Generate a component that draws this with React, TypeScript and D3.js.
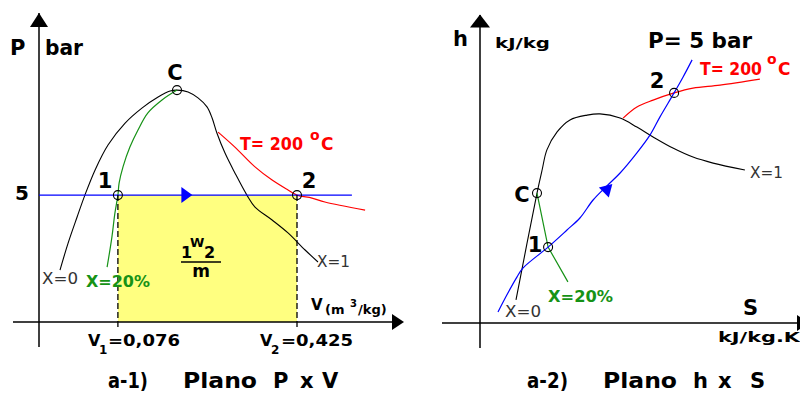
import React from 'react';
import * as d3 from 'd3';

type Pt = [number, number];

// ---- plano P x V (schematic units) ----
const domeLeft: Pt[] = [
  [7, 17.3], [9.7, 26.3], [12.7, 35], [15.3, 42.3], [18.7, 50.7], [23, 59], [28.7, 66.3],
  [34.3, 71.3], [39.7, 75], [43.7, 77], [46, 77.3], [49.7, 76.7], [53, 74.7], [56, 71.7],
  [57.7, 68], [59.3, 63], [62, 56.3], [65.3, 49.7], [69.3, 42.3], [72, 38.3], [77.7, 34],
  [83, 29.7], [88.7, 24], [93, 20],
];
const x20Left: Pt[] = [
  [46, 77.3], [41, 74], [36.3, 69.7], [33, 64], [30.3, 58.3], [28, 51.7], [26.7, 46.3],
  [26.3, 42.3], [25.3, 36.3], [24.3, 28.3], [22.7, 18.3],
];
const isoTLeft: Pt[] = [
  [59.7, 63.3], [65.3, 58.3], [72, 51.7], [77.7, 47.3], [83, 44], [86, 42.3],
  [91, 41.3], [95.3, 40], [108.7, 37.3],
];
const pLevel = 42.3; // 5 bar
const v1 = 26.3;
const v2 = 86;
const critLeft: Pt = [46, 77.3];
const isobarLeftEnd = 104.3;

// ---- plano h x S (schematic units) ----
const domeRight: Pt[] = [
  [12, 7.7], [19, 43.3], [20.7, 51], [22.3, 57.7], [25.7, 63.7], [30, 67.7], [35.7, 69.3],
  [40, 69.7], [46.7, 68.3], [52.3, 65.3], [57.7, 62], [64.3, 58.3], [71, 55.3], [77.7, 53.3],
  [88.3, 51],
];
const x20Right: Pt[] = [[19, 43.3], [22.7, 25.3], [29.3, 13.7]];
const isobarRight: Pt[] = [
  [6, 3.7], [9.3, 10], [12.3, 15.3], [14.3, 18.3], [22.7, 25.3], [29, 31], [33.3, 35],
  [37.7, 41], [42.3, 45.7], [46.7, 50], [52.3, 56.7], [56.7, 62.7], [60, 68.7], [64.7, 76.7],
  [67.7, 82], [70.7, 87.7],
];
const isoTRight: Pt[] = [
  [47.7, 68.3], [52.3, 72], [57.7, 74.3], [64.7, 76.7], [71, 78.3], [80, 79.3], [93.3, 81.3],
];
const critRight: Pt = [19, 43.3];
const p1Right: Pt = [22.7, 25.3];
const p2Right: Pt = [64.7, 76.7];

const FONT = "'DejaVu Sans', sans-serif";
const GREEN = '#169216';
const RED = '#ff0000';
const BLUE = '#0000ff';

const Tri = ({ x, y, angle, fill, len = 11, half = 7 }: any) => (
  <path
    d={`M${len / 2},0L${-len / 2},${-half}L${-len / 2},${half}Z`}
    transform={`translate(${x},${y}) rotate(${angle})`}
    fill={fill}
  />
);

const Lbl = ({ x, y, size = 20, fill = '#000', weight = 'bold', w, anchor = 'start', children }: any) => (
  <text
    x={x}
    y={y}
    fontSize={size}
    fontFamily={FONT}
    fontWeight={weight}
    fill={fill}
    textAnchor={anchor}
    textLength={w}
    lengthAdjust={w ? 'spacingAndGlyphs' : undefined}
  >
    {children}
  </text>
);

export default function App() {
  const xV = d3.scaleLinear().domain([0, 120]).range([39, 399]);
  const yP = d3.scaleLinear().domain([0, 100]).range([322, 22]);
  const xS = d3.scaleLinear().domain([0, 107]).range([480, 801]);
  const yH = d3.scaleLinear().domain([0, 100]).range([323, 23]);

  const curve = d3.curveCatmullRom.alpha(0.5);
  const lineL = d3.line<Pt>().x((d) => xV(d[0])).y((d) => yP(d[1])).curve(curve);
  const lineR = d3.line<Pt>().x((d) => xS(d[0])).y((d) => yH(d[1])).curve(curve);
  const lineRStraight = d3.line<Pt>().x((d) => xS(d[0])).y((d) => yH(d[1]));

  const y5 = yP(pLevel);
  const a = isobarRight[7];
  const b = isobarRight[9];
  const arrowAngle =
    (Math.atan2(yH(b[1]) - yH(a[1]), xS(b[0]) - xS(a[0])) * 180) / Math.PI;

  const circ = (cx: number, cy: number, k: string) => (
    <circle key={k} cx={cx} cy={cy} r={4.5} fill="none" stroke="#000" strokeWidth={1.1} />
  );

  return (
    <svg
      width={800}
      height={394}
      style={{ position: 'absolute', left: 0, top: 0, background: '#fff' }}
    >
      {/* ===== left: P x V ===== */}
      <rect
        x={xV(v1)}
        y={y5}
        width={xV(v2) - xV(v1)}
        height={yP(0) - y5}
        fill="#ffff80"
      />
      <line x1={xV(0)} y1={13} x2={xV(0)} y2={347} stroke="#000" strokeWidth={1.5} />
      <Tri x={xV(0)} y={20} angle={-90} fill="#000" len={14} half={9} />
      <line x1={13} y1={yP(0)} x2={395} y2={yP(0)} stroke="#000" strokeWidth={1.5} />
      <Tri x={398} y={yP(0)} angle={0} fill="#000" len={12} half={8} />

      <path d={lineL(domeLeft) || ''} fill="none" stroke="#000" strokeWidth={1.1} />
      <path d={lineL(x20Left) || ''} fill="none" stroke={GREEN} strokeWidth={1.2} />
      <path d={lineL(isoTLeft) || ''} fill="none" stroke={RED} strokeWidth={1.2} />
      <line x1={xV(0)} y1={y5} x2={xV(isobarLeftEnd)} y2={y5} stroke={BLUE} strokeWidth={1.3} />
      <Tri x={xV(49.3)} y={y5} angle={0} fill={BLUE} len={11} half={8} />

      {[v1, v2].map((v) => (
        <line
          key={v}
          x1={xV(v)}
          y1={y5}
          x2={xV(v)}
          y2={329}
          stroke="#000"
          strokeWidth={1.3}
          strokeDasharray="6,3"
        />
      ))}
      {circ(xV(v1), y5, 'l1')}
      {circ(xV(v2), y5, 'l2')}
      {circ(xV(critLeft[0]), yP(critLeft[1]), 'lc')}

      <Lbl x={10} y={55} size={21}>P</Lbl>
      <Lbl x={45} y={55} size={21} w={38}>bar</Lbl>
      <Lbl x={15} y={200} size={20}>5</Lbl>
      <Lbl x={175} y={80} size={21} anchor="middle">C</Lbl>
      <Lbl x={105} y={188} size={21} anchor="middle">1</Lbl>
      <Lbl x={309} y={188} size={21} anchor="middle">2</Lbl>
      <text x={240} y={150} fontFamily={FONT} fontWeight="bold" fill={RED}>
        <tspan fontSize={17} textLength={63} lengthAdjust="spacingAndGlyphs">T= 200</tspan>
        <tspan x={310} y={140} fontSize={14}>o</tspan>
        <tspan x={321} y={150} fontSize={17}>C</tspan>
      </text>
      <Lbl x={42} y={284} size={15} weight="normal" fill="#333" w={36}>X=0</Lbl>
      <Lbl x={86} y={287} size={16} fill={GREEN} w={64}>X=20%</Lbl>
      <Lbl x={317} y={267} size={15} weight="normal" fill="#333" w={33}>X=1</Lbl>

      {/* 1W2 / m */}
      <Lbl x={181} y={258} size={16}>1</Lbl>
      <Lbl x={190} y={247} size={13}>W</Lbl>
      <Lbl x={204} y={258} size={16}>2</Lbl>
      <line x1={181} y1={262} x2={221} y2={262} stroke="#000" strokeWidth={1.5} />
      <Lbl x={201} y={277} size={17} anchor="middle">m</Lbl>

      <text x={311} y={310} fontFamily={FONT} fontWeight="bold" fill="#000">
        <tspan fontSize={15}>V</tspan>
        <tspan x={325} y={314} fontSize={13}>(m</tspan>
        <tspan x={350} y={307} fontSize={10}>3</tspan>
        <tspan x={358} y={314} fontSize={13}>/kg)</tspan>
      </text>

      <text x={88} y={346} fontFamily={FONT} fontWeight="bold" fill="#000">
        <tspan fontSize={16}>V</tspan>
        <tspan x={99} y={354} fontSize={12}>1</tspan>
        <tspan x={108} y={346} fontSize={16} textLength={72} lengthAdjust="spacingAndGlyphs">=0,076</tspan>
      </text>
      <text x={260} y={346} fontFamily={FONT} fontWeight="bold" fill="#000">
        <tspan fontSize={16}>V</tspan>
        <tspan x={271} y={354} fontSize={12}>2</tspan>
        <tspan x={281} y={346} fontSize={16} textLength={72} lengthAdjust="spacingAndGlyphs">=0,425</tspan>
      </text>

      <Lbl x={108} y={388} size={21} w={40}>a-1)</Lbl>
      <Lbl x={183} y={388} size={21} w={74}>Plano</Lbl>
      <Lbl x={273} y={388} size={21}>P</Lbl>
      <Lbl x={300} y={388} size={21}>x</Lbl>
      <Lbl x={322} y={388} size={21}>V</Lbl>

      {/* ===== right: h x S ===== */}
      <line x1={xS(0)} y1={15} x2={xS(0)} y2={348} stroke="#000" strokeWidth={1.5} />
      <Tri x={xS(0)} y={21} angle={-90} fill="#000" len={13} half={10} />
      <line x1={442} y1={yH(0)} x2={800} y2={yH(0)} stroke="#000" strokeWidth={1.5} />
      <Tri x={803} y={yH(0)} angle={0} fill="#000" len={12} half={8} />

      <path d={lineR(domeRight) || ''} fill="none" stroke="#000" strokeWidth={1.1} />
      <path d={lineRStraight(x20Right) || ''} fill="none" stroke={GREEN} strokeWidth={1.2} />
      <path d={lineR(isoTRight) || ''} fill="none" stroke={RED} strokeWidth={1.2} />
      <path d={lineR(isobarRight) || ''} fill="none" stroke={BLUE} strokeWidth={1.2} />
      <Tri x={xS(42.7)} y={yH(44.9)} angle={arrowAngle} fill={BLUE} len={12} half={7} />

      {circ(xS(critRight[0]), yH(critRight[1]), 'rc')}
      {circ(xS(p1Right[0]), yH(p1Right[1]), 'r1')}
      {circ(xS(p2Right[0]), yH(p2Right[1]), 'r2')}

      <Lbl x={453} y={46} size={21}>h</Lbl>
      <Lbl x={495} y={48} size={14} w={55}>kJ/kg</Lbl>
      <Lbl x={648} y={48} size={21} w={104}>P= 5 bar</Lbl>
      <text x={700} y={75} fontFamily={FONT} fontWeight="bold" fill={RED}>
        <tspan fontSize={17} textLength={62} lengthAdjust="spacingAndGlyphs">T= 200</tspan>
        <tspan x={767} y={64} fontSize={14}>o</tspan>
        <tspan x={778} y={75} fontSize={17}>C</tspan>
      </text>
      <Lbl x={657} y={88} size={21} anchor="middle">2</Lbl>
      <Lbl x={522} y={202} size={21} anchor="middle">C</Lbl>
      <Lbl x={535} y={252} size={21} anchor="middle">1</Lbl>
      <Lbl x={505} y={317} size={15} weight="normal" fill="#333" w={36}>X=0</Lbl>
      <Lbl x={548} y={302} size={16} fill={GREEN} w={65}>X=20%</Lbl>
      <Lbl x={750} y={178} size={15} weight="normal" fill="#333" w={33}>X=1</Lbl>
      <Lbl x={743} y={315} size={21}>S</Lbl>
      <Lbl x={718} y={342} size={14} w={82}>kJ/kg.K</Lbl>

      <Lbl x={527} y={388} size={21} w={41}>a-2)</Lbl>
      <Lbl x={603} y={388} size={21} w={74}>Plano</Lbl>
      <Lbl x={693} y={388} size={21}>h</Lbl>
      <Lbl x={718} y={388} size={21}>x</Lbl>
      <Lbl x={750} y={388} size={21}>S</Lbl>
    </svg>
  );
}
